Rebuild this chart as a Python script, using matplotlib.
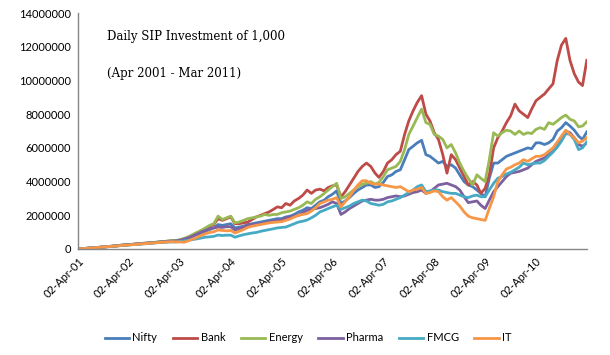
import numpy as np
import pandas as pd
import matplotlib
matplotlib.use("Agg")
import matplotlib.pyplot as plt
import matplotlib.dates as mdates
from matplotlib.ticker import FuncFormatter

# monthly readings (in millions), Apr 2001 .. Apr 2011 (121 points)
dates = pd.date_range("2001-04-02", periods=121, freq=pd.DateOffset(months=1))

nifty = [0.00, 0.02, 0.04, 0.06, 0.08, 0.10, 0.12, 0.14, 0.16, 0.18, 0.21, 0.23,
         0.25, 0.27, 0.29, 0.31, 0.33, 0.35, 0.37, 0.39, 0.41, 0.43, 0.45, 0.45,
         0.50, 0.56, 0.65, 0.75, 0.85, 0.95, 1.05, 1.15, 1.25, 1.45, 1.40, 1.45,
         1.50, 1.25, 1.30, 1.35, 1.45, 1.50, 1.55, 1.60, 1.65, 1.70, 1.75, 1.80,
         1.80, 1.90, 1.95, 2.05, 2.20, 2.30, 2.45, 2.40, 2.60, 2.80, 2.90, 3.10,
         3.25, 3.45, 2.70, 2.85, 3.05, 3.30, 3.50, 3.65, 3.80, 3.80, 3.65, 3.70,
         3.95, 4.30, 4.40, 4.60, 4.70, 5.30, 5.90, 6.10, 6.30, 6.45, 5.60, 5.50,
         5.30, 5.10, 5.20, 4.90, 5.00, 4.80, 4.40, 4.00, 3.80, 3.70, 3.50, 3.30,
         3.10, 4.20, 5.10, 5.10, 5.30, 5.50, 5.60, 5.70, 5.80, 5.90, 6.00, 5.95,
         6.30, 6.30, 6.20, 6.30, 6.50, 7.00, 7.20, 7.50, 7.30, 7.05, 6.70, 6.50,
         6.95]

bank = [0.00, 0.02, 0.04, 0.06, 0.08, 0.10, 0.12, 0.14, 0.16, 0.19, 0.22, 0.24,
        0.26, 0.28, 0.30, 0.33, 0.35, 0.37, 0.39, 0.41, 0.43, 0.46, 0.48, 0.48,
        0.52, 0.60, 0.70, 0.82, 0.95, 1.08, 1.20, 1.35, 1.45, 1.80, 1.70, 1.80,
        1.90, 1.50, 1.50, 1.55, 1.60, 1.75, 1.90, 2.00, 2.10, 2.20, 2.35, 2.50,
        2.45, 2.70, 2.60, 2.85, 3.00, 3.20, 3.50, 3.30, 3.50, 3.55, 3.45, 3.65,
        3.75, 3.80, 3.10, 3.40, 3.80, 4.20, 4.60, 4.90, 5.10, 4.90, 4.50, 4.25,
        4.60, 5.10, 5.30, 5.60, 5.80, 6.80, 7.60, 8.20, 8.70, 9.10, 8.00, 7.60,
        6.90, 6.50, 5.60, 4.50, 5.60, 5.30, 4.80, 4.30, 3.80, 4.00, 3.80, 3.30,
        3.60, 4.40, 6.00, 6.60, 7.00, 7.50, 7.90, 8.60, 8.20, 8.00, 7.80, 8.30,
        8.80, 9.00, 9.20, 9.50, 9.80, 11.20, 12.10, 12.50, 11.20, 10.40, 9.90, 9.70,
        11.20]

energy = [0.00, 0.02, 0.04, 0.06, 0.08, 0.10, 0.12, 0.14, 0.17, 0.19, 0.22, 0.24,
          0.26, 0.28, 0.31, 0.33, 0.35, 0.37, 0.39, 0.42, 0.44, 0.47, 0.50, 0.50,
          0.55, 0.62, 0.72, 0.85, 0.98, 1.10, 1.25, 1.40, 1.50, 1.95, 1.75, 1.85,
          1.95, 1.55, 1.60, 1.70, 1.80, 1.85, 1.90, 1.95, 2.05, 2.00, 2.05, 2.05,
          2.15, 2.20, 2.25, 2.35, 2.45, 2.60, 2.80, 2.70, 2.95, 3.10, 3.30, 3.50,
          3.70, 3.90, 3.00, 3.10, 3.30, 3.50, 3.70, 3.85, 3.90, 4.00, 3.85, 3.95,
          4.30, 4.70, 4.80, 4.90, 5.20, 5.90, 6.80, 7.30, 7.80, 8.30, 7.50, 7.40,
          6.80, 6.70, 6.50, 6.00, 6.20, 5.70, 5.10, 4.60, 4.20, 3.80, 4.40, 4.20,
          4.00, 5.30, 6.90, 6.70, 6.90, 7.05, 7.00, 6.80, 7.00, 6.80, 6.90, 6.85,
          7.10, 7.20, 7.10, 7.50, 7.40, 7.60, 7.80, 7.95, 7.70, 7.60, 7.25, 7.30,
          7.55]

pharma = [0.00, 0.02, 0.04, 0.06, 0.08, 0.10, 0.12, 0.14, 0.17, 0.19, 0.22, 0.24,
          0.26, 0.28, 0.30, 0.32, 0.34, 0.36, 0.38, 0.41, 0.43, 0.45, 0.47, 0.48,
          0.52, 0.58, 0.66, 0.76, 0.88, 1.00, 1.10, 1.20, 1.25, 1.30, 1.28, 1.32,
          1.32, 1.13, 1.20, 1.30, 1.42, 1.45, 1.45, 1.50, 1.55, 1.60, 1.65, 1.70,
          1.72, 1.85, 1.90, 1.95, 2.00, 2.15, 2.30, 2.35, 2.40, 2.45, 2.55, 2.65,
          2.80, 2.70, 2.05, 2.20, 2.40, 2.55, 2.70, 2.85, 2.90, 2.95, 2.90, 2.90,
          2.95, 3.05, 3.10, 3.15, 3.10, 3.15, 3.25, 3.35, 3.40, 3.50, 3.30, 3.40,
          3.60, 3.80, 3.85, 3.90, 3.80, 3.70, 3.50, 3.10, 2.75, 2.80, 2.85, 2.60,
          2.40, 2.90, 3.40, 3.70, 4.00, 4.30, 4.50, 4.55, 4.60, 4.70, 4.80, 5.00,
          5.20, 5.30, 5.40, 5.60, 5.80, 6.10, 6.60, 7.00, 6.90, 6.60, 6.20, 6.10,
          6.30]

fmcg = [0.00, 0.02, 0.04, 0.06, 0.08, 0.10, 0.12, 0.14, 0.16, 0.18, 0.20, 0.22,
        0.24, 0.26, 0.28, 0.30, 0.32, 0.34, 0.36, 0.38, 0.40, 0.41, 0.42, 0.42,
        0.44, 0.48, 0.52, 0.56, 0.60, 0.65, 0.70, 0.72, 0.75, 0.83, 0.80, 0.82,
        0.82, 0.70, 0.78, 0.85, 0.90, 0.95, 0.98, 1.05, 1.10, 1.15, 1.20, 1.25,
        1.28, 1.30, 1.40, 1.50, 1.60, 1.65, 1.72, 1.85, 2.00, 2.20, 2.30, 2.40,
        2.50, 2.60, 2.35, 2.45, 2.55, 2.70, 2.80, 2.90, 2.85, 2.70, 2.65, 2.60,
        2.65, 2.80, 2.85, 2.95, 3.05, 3.20, 3.35, 3.50, 3.70, 3.80, 3.40, 3.45,
        3.50, 3.50, 3.40, 3.35, 3.30, 3.30, 3.20, 3.10, 3.05, 3.15, 3.20, 3.10,
        3.10, 3.50, 3.90, 4.20, 4.30, 4.45, 4.55, 4.70, 4.85, 5.10, 5.00, 5.05,
        5.10, 5.10, 5.25, 5.50, 5.75, 6.05, 6.40, 6.85, 6.80, 6.50, 5.90, 6.00,
        6.35]

it = [0.00, 0.02, 0.04, 0.06, 0.08, 0.10, 0.12, 0.14, 0.16, 0.18, 0.20, 0.22,
      0.24, 0.26, 0.28, 0.30, 0.32, 0.34, 0.36, 0.38, 0.40, 0.42, 0.43, 0.42,
      0.42, 0.40, 0.48, 0.58, 0.68, 0.80, 0.90, 0.98, 1.02, 1.13, 1.10, 1.08,
      1.10, 0.95, 1.05, 1.15, 1.28, 1.35, 1.40, 1.45, 1.50, 1.55, 1.58, 1.60,
      1.62, 1.70, 1.78, 1.90, 2.00, 2.05, 2.10, 2.25, 2.45, 2.70, 2.80, 2.90,
      2.95, 3.05, 2.50, 2.80, 3.10, 3.50, 3.80, 4.05, 4.05, 3.90, 3.85, 3.85,
      3.80, 3.75, 3.70, 3.65, 3.70, 3.55, 3.40, 3.50, 3.55, 3.65, 3.30, 3.35,
      3.45, 3.40, 3.10, 2.90, 3.05, 2.80, 2.55, 2.20, 1.95, 1.85, 1.80, 1.75,
      1.70, 2.40, 3.10, 4.00, 4.40, 4.75, 4.85, 5.00, 5.10, 5.30, 5.20, 5.35,
      5.50, 5.50, 5.60, 5.80, 6.00, 6.35, 6.70, 7.05, 6.80, 6.60, 6.30, 6.40,
      6.60]

series = [("Nifty", nifty, "#4a7ebb"),
          ("Bank", bank, "#be4b48"),
          ("Energy", energy, "#98b954"),
          ("Pharma", pharma, "#7d60a0"),
          ("FMCG", fmcg, "#46aac5"),
          ("IT", it, "#f79646")]

tick_dates = pd.date_range("2001-04-02", periods=10, freq=pd.DateOffset(years=1))

fig = plt.figure(figsize=(6.1, 3.55), dpi=100)
ax = fig.add_axes([0.128, 0.2986, 0.834, 0.6645])

for name, vals, col in series:
    ax.plot(dates, np.array(vals) * 1e6, color=col, lw=2.0, label=name)

ax.set_xlim(dates[0], dates[-1])
ax.set_ylim(0, 14e6)
ax.set_yticks(np.arange(0, 14e6 + 1, 2e6))
ax.yaxis.set_major_formatter(FuncFormatter(lambda v, p: "%d" % v))
ax.set_xticks(tick_dates)
ax.xaxis.set_major_formatter(mdates.DateFormatter("%d-%b-%y"))

for s in ["top", "right"]:
    ax.spines[s].set_visible(False)
for s in ["left", "bottom"]:
    ax.spines[s].set_color("#868686")
    ax.spines[s].set_linewidth(1.0)
ax.tick_params(length=0, labelsize=8, pad=5)
for lab in ax.get_yticklabels():
    lab.set_family("Lato")
for lab in ax.get_xticklabels():
    lab.set_family("Lato")
    lab.set_rotation(45)
    lab.set_ha("right")
    lab.set_rotation_mode("anchor")

ax.text(0.057, 0.90, "Daily SIP Investment of 1,000", transform=ax.transAxes,
        family="DejaVu Serif", fontsize=8.5, va="center")
ax.text(0.057, 0.746, "(Apr 2001 - Mar 2011)", transform=ax.transAxes,
        family="DejaVu Serif", fontsize=8.5, va="center")

fig.legend(loc="center", bbox_to_anchor=(0.505, 0.048), ncol=6, frameon=False,
           prop={"family": "Lato", "size": 8}, handlelength=2.2,
           columnspacing=1.4, handletextpad=0.3)

fig.savefig("out.png", dpi=100)
